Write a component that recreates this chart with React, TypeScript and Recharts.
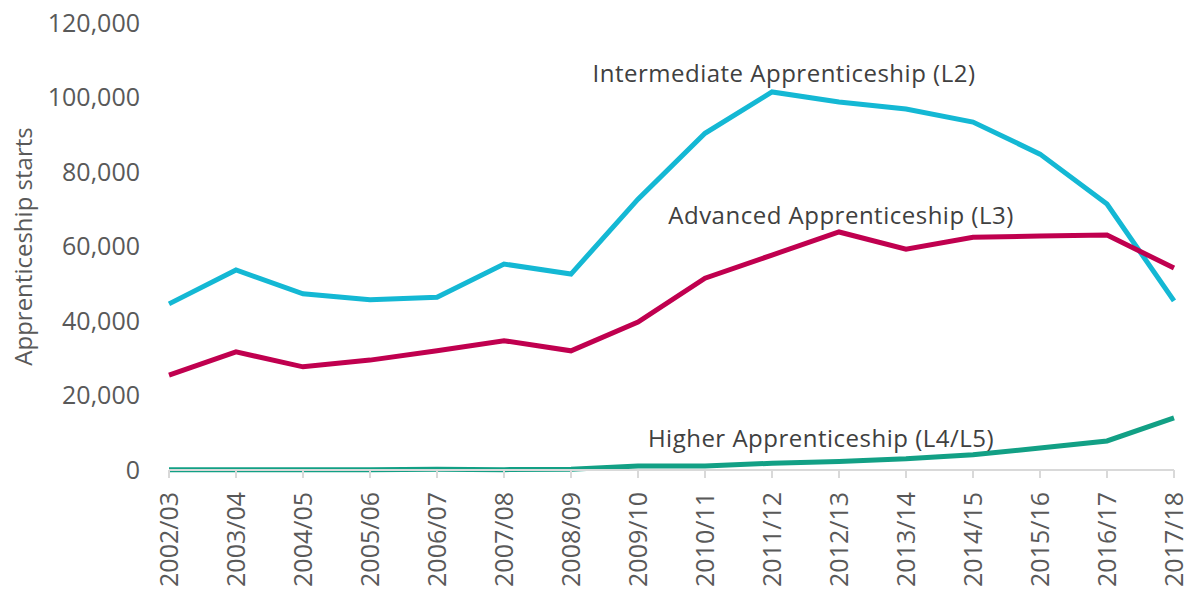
import React from "react";
import { LineChart, Line, XAxis, YAxis } from "recharts";

const years = [
  "2002/03", "2003/04", "2004/05", "2005/06", "2006/07", "2007/08", "2008/09", "2009/10",
  "2010/11", "2011/12", "2012/13", "2013/14", "2014/15", "2015/16", "2016/17", "2017/18",
];

const intermediate = [
  44600, 53700, 47300, 45700, 46400, 55300, 52600, 72700,
  90400, 101500, 98800, 96900, 93400, 84800, 71400, 45400,
];

const advanced = [
  25500, 31700, 27700, 29500, 32000, 34700, 32000, 39700,
  51500, 57700, 63900, 59300, 62500, 62800, 63100, 54200,
];

const higher = [
  100, 100, 100, 100, 200, 100, 200, 1100,
  1100, 1800, 2300, 3000, 4100, 5900, 7800, 14000,
];

const yTicks = [0, 20000, 40000, 60000, 80000, 100000, 120000];

const data = years.map((y, i) => ({
  year: y,
  intermediate: intermediate[i],
  advanced: advanced[i],
  higher: higher[i],
}));

const FONT = "'Open Sans', sans-serif";
const TEXT = "#595959";

// draws the series name next to one chosen point of the line
const seriesLabel = (text: string, idx: number, dx: number, dy: number) => (props: any) => {
  if (props.index !== idx) return null;
  return (
    <text
      key={text}
      x={props.x + dx}
      y={props.y + dy}
      textAnchor="middle"
      fontFamily={FONT}
      fontSize={24}
      letterSpacing={0.5}
      fill="#404040"
    >
      {text}
    </text>
  );
};

const XTick = (props: any) => {
  const { x, y, payload } = props;
  return (
    <g transform={`translate(${x},${y})`}>
      <text
        transform="rotate(-90)"
        x={-12}
        y={0}
        dy={9}
        textAnchor="end"
        fontFamily={FONT}
        fontSize={25}
        fill={TEXT}
      >
        {payload.value}
      </text>
    </g>
  );
};

export default function App() {
  return (
    <div style={{ position: "absolute", left: 0, top: 0, width: 1194, height: 592, background: "#fff" }}>
      <LineChart
        width={1194}
        height={592}
        data={data}
        margin={{ top: 23, right: 20, left: 0, bottom: 0 }}
      >
        <XAxis
          dataKey="year"
          interval={0}
          height={122}
          axisLine={{ stroke: "#D9D9D9", strokeWidth: 2 }}
          tickLine={{ stroke: "#D9D9D9", strokeWidth: 2 }}
          tickSize={8}
          tick={<XTick />}
        />
        <YAxis
          width={169}
          domain={[0, 120000]}
          ticks={yTicks}
          axisLine={false}
          tickLine={false}
          tickSize={0}
          tickMargin={29}
          tickFormatter={(v: number) => v.toLocaleString("en-US")}
          tick={{ fontFamily: FONT, fontSize: 25, fill: TEXT }}
          label={{
            value: "Apprenticeship starts",
            angle: -90,
            position: "insideLeft",
            offset: 0,
            dx: 23,
            style: { fontFamily: FONT, fontSize: 24, fill: TEXT, textAnchor: "middle" },
          }}
        />
        <Line
          dataKey="intermediate"
          stroke="#14B8D4"
          strokeWidth={5}
          dot={false}
          isAnimationActive={false}
          label={seriesLabel("Intermediate Apprenticeship (L2)", 9, 12, -10)}
        />
        <Line
          dataKey="advanced"
          stroke="#C0004F"
          strokeWidth={5}
          dot={false}
          isAnimationActive={false}
          label={seriesLabel("Advanced Apprenticeship (L3)", 10, 2, -8)}
        />
        <Line
          dataKey="higher"
          stroke="#12A085"
          strokeWidth={5}
          dot={false}
          isAnimationActive={false}
          label={seriesLabel("Higher Apprenticeship (L4/L5)", 10, -18, -14)}
        />
      </LineChart>
    </div>
  );
}
